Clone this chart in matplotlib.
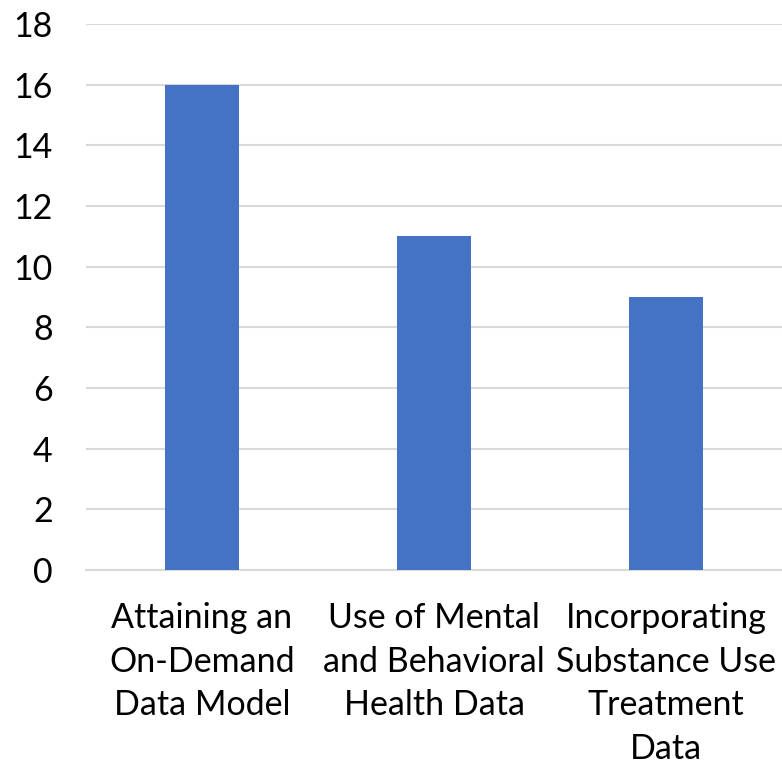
import matplotlib
matplotlib.use("Agg")
import matplotlib.pyplot as plt

categories = [
    "Attaining an\nOn-Demand\nData Model",
    "Use of Mental\nand Behavioral\nHealth Data",
    "Incorporating\nSubstance Use\nTreatment\nData",
]
values = [16, 11, 9]
y_ticks = [0, 2, 4, 6, 8, 10, 12, 14, 16, 18]

plt.rcParams["font.family"] = ["Lato", "DejaVu Sans"]

fig = plt.figure(figsize=(7.82, 7.69), dpi=100)
ax = fig.add_axes([0.110, 0.2588, 0.890, 0.7100])

x = range(len(categories))
ax.bar(x, values, width=0.315, color="#4472C4", zorder=3)

ax.set_xlim(-0.5, len(categories) - 0.5)
ax.set_ylim(0, 18)
ax.set_yticks(y_ticks)
ax.yaxis.grid(True, color="#D9D9D9", linewidth=1.5, zorder=0)
ax.set_axisbelow(True)

for s in ["top", "right", "left"]:
    ax.spines[s].set_visible(False)
ax.spines["bottom"].set_color("#D9D9D9")
ax.spines["bottom"].set_linewidth(1.5)

ax.tick_params(axis="y", length=0, pad=24, labelsize=24.5, labelcolor="black")
ax.tick_params(axis="x", length=0, pad=23, labelsize=24.5, labelcolor="black")
ax.set_xticks(list(x))
ax.set_xticklabels(categories, linespacing=1.45, ha="center", va="top")

fig.savefig("out.png", dpi=100)
